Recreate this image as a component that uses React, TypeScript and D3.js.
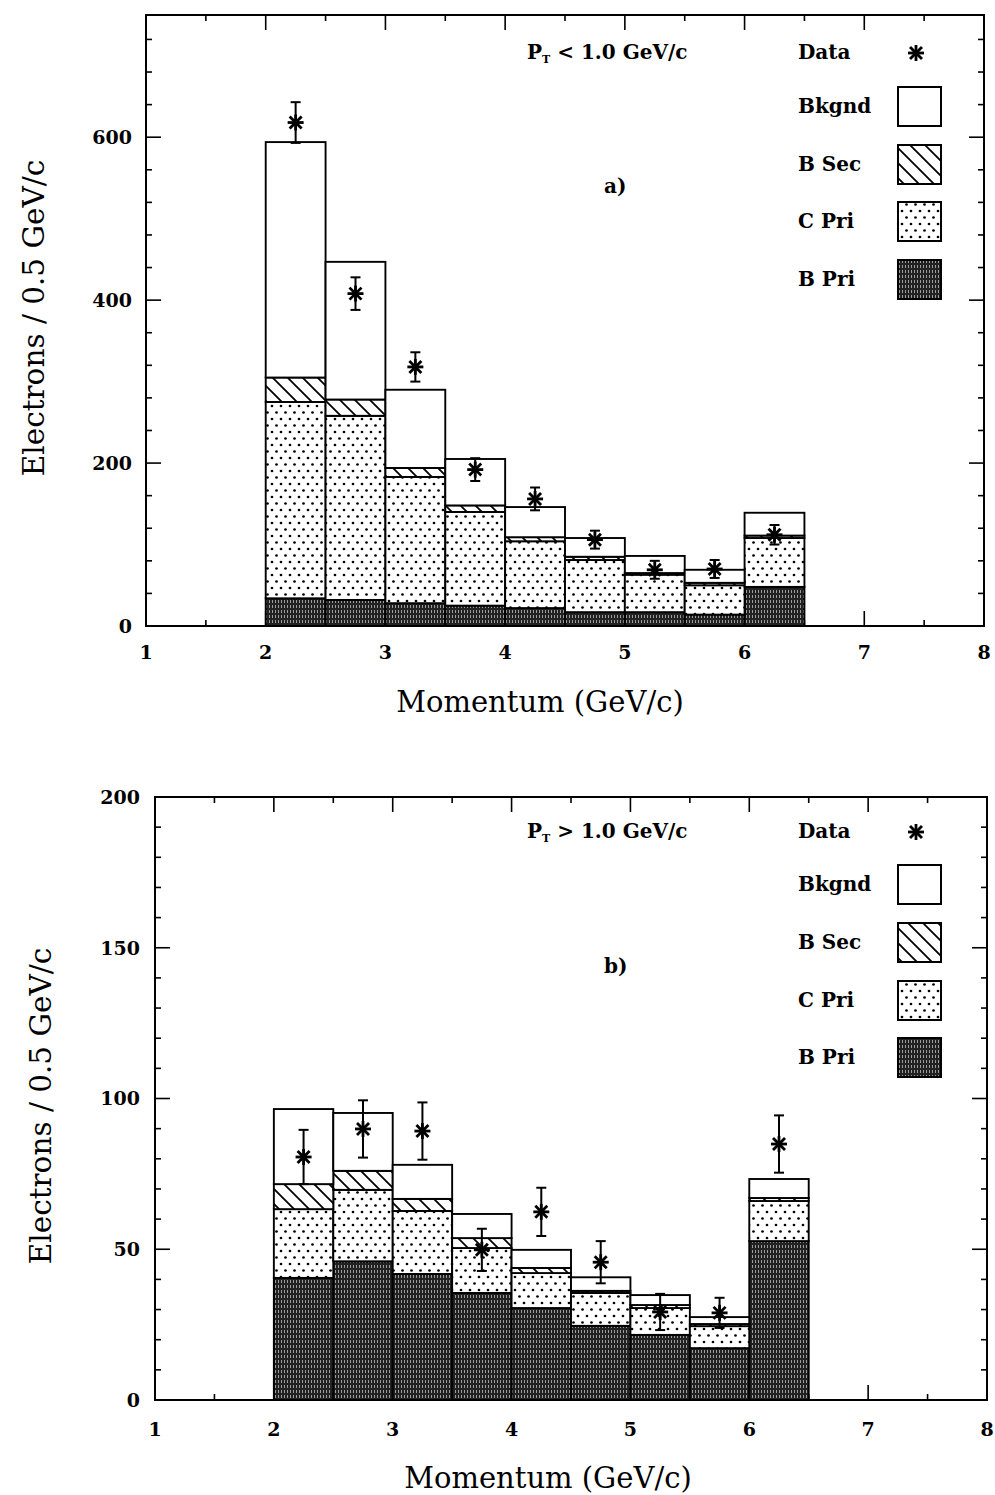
import React from 'react';
import * as d3 from 'd3';

// ---------- DATA ----------
const binLow = [2, 2.5, 3, 3.5, 4, 4.5, 5, 5.5, 6];
const binWidth = 0.5;
const layerKeys = ['bPri', 'cPri', 'bSec', 'bkgnd'];
const legendLabels = ['Bkgnd', 'B Sec', 'C Pri', 'B Pri'];

// panel a) PT < 1.0 GeV/c
const aBPri = [34, 32, 28, 25, 22, 17, 17, 14, 48];
const aCPri = [241, 226, 155, 115, 82, 64, 46, 36, 60];
const aBSec = [30, 20, 11, 8, 5, 4, 2, 3, 3];
const aBkgnd = [289, 169, 96, 57, 37, 23, 21, 16, 28];
const aData = [618, 408, 318, 192, 156, 106, 69, 70, 112];
const aErr = [25, 20, 18, 14, 14, 11, 11, 11, 12];
const aYMajor = [0, 200, 400, 600];

// panel b) PT > 1.0 GeV/c
const bBPri = [40.5, 46, 41.8, 35.5, 30.5, 24.6, 21.6, 17.2, 52.7];
const bCPri = [22.8, 23.7, 20.9, 14.9, 11.6, 10.9, 8.9, 7.3, 13.3];
const bBSec = [8.3, 6.3, 4.0, 3.3, 1.7, 0.7, 1.0, 0.7, 1.0];
const bBkgnd = [24.9, 19.2, 11.3, 8.0, 6.0, 4.5, 3.3, 2.3, 6.3];
const bData = [80.6, 89.9, 89.2, 49.8, 62.4, 45.7, 29.2, 28.9, 84.9];
const bErr = [9, 9.5, 9.5, 7, 8, 7, 6, 5, 9.5];
const bYMajor = [0, 50, 100, 150, 200];

const xMajor = [1, 2, 3, 4, 5, 6, 7, 8];
const xMinor = [1.5, 2.5, 3.5, 4.5, 5.5, 6.5, 7.5];

const yTitle = 'Electrons / 0.5 GeV/c';
const xTitle = 'Momentum (GeV/c)';

// ---------- LAYOUT ----------
const FONT = '"DejaVu Serif", serif';
const fills: Record<string, string> = {
  bkgnd: '#ffffff',
  bSec: 'url(#hatch)',
  cPri: 'url(#dots)',
  bPri: 'url(#dense)',
};

type PanelCfg = {
  id: string;
  bPri: number[]; cPri: number[]; bSec: number[]; bkgnd: number[];
  data: number[]; err: number[];
  yMax: number; yMajor: number[]; yMinorStep: number;
  x0: number; x1: number; yBot: number; yTop: number;
  ptText: string; letter: string;
  yLabelRight: number; xLabelBase: number; titleX: number; titleY: number; yTitleX: number; yTitleY: number;
  ptBase: number; legTop: number[]; letterBase: number;
};

const panels: PanelCfg[] = [
  {
    id: 'a', bPri: aBPri, cPri: aCPri, bSec: aBSec, bkgnd: aBkgnd, data: aData, err: aErr,
    yMax: 750, yMajor: aYMajor, yMinorStep: 40,
    x0: 146, x1: 984, yBot: 626, yTop: 15,
    ptText: '<', letter: 'a)',
    yLabelRight: 132, xLabelBase: 659, titleX: 540, titleY: 712, yTitleX: 34, yTitleY: 318,
    ptBase: 59, legTop: [87, 145, 202, 260], letterBase: 193,
  },
  {
    id: 'b', bPri: bBPri, cPri: bCPri, bSec: bBSec, bkgnd: bBkgnd, data: bData, err: bErr,
    yMax: 200, yMajor: bYMajor, yMinorStep: 10,
    x0: 155, x1: 987, yBot: 1400, yTop: 797,
    ptText: '>', letter: 'b)',
    yLabelRight: 140, xLabelBase: 1436, titleX: 548, titleY: 1488, yTitleX: 41, yTitleY: 1106,
    ptBase: 838, legTop: [865, 923, 981, 1038], letterBase: 973,
  },
];

function Star({ cx, cy }: { cx: number; cy: number }) {
  const r = 8, d = 6;
  return (
    <g stroke="#000" strokeWidth={2.8} strokeLinecap="butt">
      <line x1={cx - r} y1={cy} x2={cx + r} y2={cy} />
      <line x1={cx} y1={cy - r} x2={cx} y2={cy + r} />
      <line x1={cx - d} y1={cy - d} x2={cx + d} y2={cy + d} />
      <line x1={cx - d} y1={cy + d} x2={cx + d} y2={cy - d} />
      <circle cx={cx} cy={cy} r={3.2} fill="#000" stroke="none" />
    </g>
  );
}

function Panel({ p }: { p: PanelCfg }) {
  const x = d3.scaleLinear().domain([1, 8]).range([p.x0, p.x1]);
  const y = d3.scaleLinear().domain([0, p.yMax]).range([p.yBot, p.yTop]);
  const rows = binLow.map((lo, i) => ({
    lo, bPri: p.bPri[i], cPri: p.cPri[i], bSec: p.bSec[i], bkgnd: p.bkgnd[i],
  }));
  const series = d3.stack<any>().keys(layerKeys)(rows);
  const yMinor = d3.range(0, p.yMax + 0.001, p.yMinorStep).filter((v) => !p.yMajor.includes(v));
  const majLen = 15, minLen = 6;
  const legX = 898, legW = 43, legH = 39;
  const legendKeys = ['bkgnd', 'bSec', 'cPri', 'bPri'];
  return (
    <g>
      {/* ticks */}
      <g stroke="#000" strokeWidth={1.6}>
        {xMajor.map((v) => (
          <g key={'xM' + v}>
            <line x1={x(v)} x2={x(v)} y1={p.yBot} y2={p.yBot - majLen} />
            <line x1={x(v)} x2={x(v)} y1={p.yTop} y2={p.yTop + majLen} />
          </g>
        ))}
        {xMinor.map((v) => (
          <g key={'xm' + v}>
            <line x1={x(v)} x2={x(v)} y1={p.yBot} y2={p.yBot - minLen} />
            <line x1={x(v)} x2={x(v)} y1={p.yTop} y2={p.yTop + minLen} />
          </g>
        ))}
        {p.yMajor.map((v) => (
          <g key={'yM' + v}>
            <line x1={p.x0} x2={p.x0 + majLen} y1={y(v)} y2={y(v)} />
            <line x1={p.x1} x2={p.x1 - majLen} y1={y(v)} y2={y(v)} />
          </g>
        ))}
        {yMinor.map((v) => (
          <g key={'ym' + v}>
            <line x1={p.x0} x2={p.x0 + minLen} y1={y(v)} y2={y(v)} />
            <line x1={p.x1} x2={p.x1 - minLen} y1={y(v)} y2={y(v)} />
          </g>
        ))}
      </g>
      {/* stacked histogram */}
      {series.map((s: any) => (
        <g key={s.key}>
          {s.map((d: any, i: number) => (
            <rect
              key={i}
              x={x(d.data.lo)}
              width={x(d.data.lo + binWidth) - x(d.data.lo)}
              y={y(d[1])}
              height={Math.max(0, y(d[0]) - y(d[1]))}
              fill={fills[s.key]}
              stroke="#000"
              strokeWidth={1.9}
            />
          ))}
        </g>
      ))}
      {/* data points */}
      {binLow.map((lo, i) => {
        const cx = x(lo + binWidth / 2);
        const top = y(p.data[i] + p.err[i]);
        const bot = y(p.data[i] - p.err[i]);
        return (
          <g key={'d' + i}>
            <g stroke="#000" strokeWidth={2}>
              <line x1={cx} x2={cx} y1={top} y2={bot} />
              <line x1={cx - 5} x2={cx + 5} y1={top} y2={top} />
              <line x1={cx - 5} x2={cx + 5} y1={bot} y2={bot} />
            </g>
            <Star cx={cx} cy={y(p.data[i])} />
          </g>
        );
      })}
      {/* frame */}
      <rect x={p.x0} y={p.yTop} width={p.x1 - p.x0} height={p.yBot - p.yTop} fill="none" stroke="#000" strokeWidth={2} />
      {/* tick labels */}
      <g fontFamily={FONT} fontWeight="bold" fontSize={19} fill="#000">
        {p.yMajor.map((v) => (
          <text key={'yl' + v} x={p.yLabelRight} y={y(v)} dy="0.36em" textAnchor="end">{v}</text>
        ))}
        {xMajor.map((v) => (
          <text key={'xl' + v} x={x(v)} y={p.xLabelBase} textAnchor="middle">{v}</text>
        ))}
      </g>
      {/* axis titles */}
      <text x={p.titleX} y={p.titleY} textAnchor="middle" fontFamily={FONT} fontSize={29} fill="#000">{xTitle}</text>
      <text
        transform={`translate(${p.yTitleX},${p.yTitleY}) rotate(-90)`}
        textAnchor="middle" dy="0.35em" fontFamily={FONT} fontSize={29.5} fill="#000"
      >{yTitle}</text>
      {/* annotations & legend */}
      <g fontFamily={FONT} fontWeight="bold" fontSize={20} fill="#000">
        <text x={527} y={p.ptBase}>
          P<tspan fontSize={11} dy={4}>T</tspan><tspan dy={-4}>{` ${p.ptText} 1.0 GeV/c`}</tspan>
        </text>
        <text x={604} y={p.letterBase}>{p.letter}</text>
        <text x={798} y={p.ptBase}>Data</text>
        {legendKeys.map((k, i) => (
          <g key={'lg' + k}>
            <text x={798} y={p.legTop[i] + 26}>{legendLabels[i]}</text>
            <rect x={legX} y={p.legTop[i]} width={legW} height={legH} fill={fills[k]} stroke="#000" strokeWidth={2} />
          </g>
        ))}
      </g>
      <Star cx={916} cy={p.ptBase - 6} />
    </g>
  );
}

export default function App() {
  return (
    <svg
      width={995}
      height={1495}
      viewBox="0 0 995 1495"
      style={{ position: 'absolute', left: 0, top: 0, background: '#fff' }}
    >
      <defs>
        <pattern id="hatch" patternUnits="userSpaceOnUse" width={15} height={15}>
          <rect width={15} height={15} fill="#fff" />
          <path d="M0,0 L15,15 M-3,12 L3,18 M12,-3 L18,3" stroke="#000" strokeWidth={1.8} />
        </pattern>
        <pattern id="dots" patternUnits="userSpaceOnUse" width={9} height={13}>
          <rect width={9} height={13} fill="#fff" />
          <circle cx={2} cy={3} r={1.35} fill="#000" />
          <circle cx={6.5} cy={9.5} r={1.35} fill="#000" />
        </pattern>
        <pattern id="dense" patternUnits="userSpaceOnUse" width={3} height={5}>
          <rect width={3} height={5} fill="#222" />
          <rect x={2} y={0} width={0.9} height={3} fill="#aaa" />
        </pattern>
      </defs>
      {panels.map((p) => (
        <Panel key={p.id} p={p} />
      ))}
    </svg>
  );
}
